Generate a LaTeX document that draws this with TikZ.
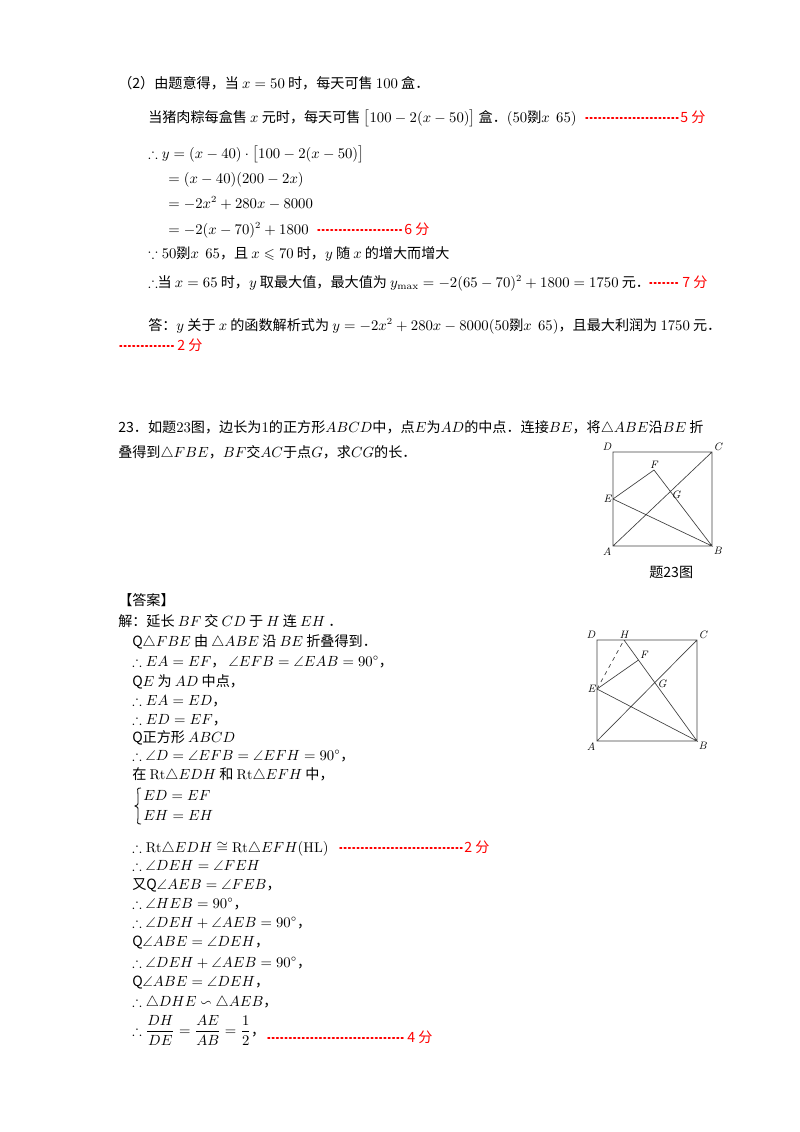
\documentclass[tikz,border=0pt]{standalone}
\usepackage{amsmath,amssymb}
\usepackage{fontspec}
\newfontfamily\cjk{Noto Sans CJK SC}
\begin{document}
\begin{tikzpicture}[x=0.744pt,y=-0.744pt,
 t/.style={anchor=base west,inner sep=0pt,font=\cjk\fontsize{10.5}{12}\selectfont},
 sc/.style={draw=black!75,line width=0.5pt},
 lb/.style={inner sep=1pt,font=\fontsize{8}{9}\selectfont\itshape}]
\useasboundingbox (0,0) rectangle (800,1132);
\newcommand{\score}[4]{\draw[red,dotted,line width=1.2pt,line cap=round] (#1,#3-4) -- (#2,#3-4); \node[t,text=red] at (#2+2,#3) {#4 分};}
\node[t] (l1) at (118,88) {（2）由题意得，当 $x=50$ 时，每天可售 $100$ 盒．};
\node[t] (l2) at (148,122) {当猪肉粽每盒售 $x$ 元时，每天可售 $\bigl[100-2(x-50)\bigr]$ 盒．$(50$剟$x\ \ 65)$};
\score{586}{678}{122}{5}
\node[t] (l3) at (148,158) {$\therefore y=(x-40)\cdot\bigl[100-2(x-50)\bigr]$};
\node[t] (l4) at (168,183) {$=(x-40)(200-2x)$};
\node[t] (l5) at (168,208) {$=-2x^2+280x-8000$};
\node[t] (l6) at (168,234) {$=-2(x-70)^2+1800$};
\score{318}{402}{234}{6}
\node[t] (l7) at (148,258) {$\because 50$剟$x\ \ 65$，且 $x\leqslant 70$ 时，$y$ 随 $x$ 的增大而增大};
\node[t] (l8) at (148,287) {$\therefore$当 $x=65$ 时，$y$ 取最大值，最大值为 $y_{\max}=-2(65-70)^2+1800=1750$ 元．};
\score{650}{680}{287}{7}
\node[t] (l9) at (148,330) {答：$y$ 关于 $x$ 的函数解析式为 $y=-2x^2+280x-8000(50$剟$x\ \ 65)$，且最大利润为 $1750$ 元．};
\score{120}{175}{350}{2}
\node[t] (p1) at (118,432) {23．如题$23$图，边长为$1$的正方形$ABCD$中，点$E$为$AD$的中点．连接$BE$，将$\triangle ABE$沿$BE$ 折};
\node[t] (p2) at (118,457) {叠得到$\triangle FBE$，$BF$交$AC$于点$G$，求$CG$的长．};
% figure 1
\coordinate (A) at (613,546); \coordinate (B) at (712,546);
\coordinate (C) at (712,452); \coordinate (D) at (613,452);
\coordinate (E) at (613,499); \coordinate (F) at (654,470); \coordinate (G) at (670,495);
\draw[sc] (A)--(B)--(C)--(D)--cycle (E)--(F)--(B)--(E) (A)--(C);
\node[lb,above left] at (D) {D}; \node[lb,above right] at (C) {C};
\node[lb,above] at (F) {F}; \node[lb,right] at (G) {G};
\node[lb,left] at (E) {E}; \node[lb,below left] at (A) {A}; \node[lb,below right] at (B) {B};
\node[t] (cap) at (649,577) {题23图};
\node[t] (ans) at (118,605) {【答案】};
\node[t] (s0) at (118,626) {解：延长 $BF$ 交 $CD$ 于 $H$ 连 $EH$ ．};
% figure 2
\coordinate (A2) at (597,741); \coordinate (B2) at (697,741);
\coordinate (C2) at (697,640); \coordinate (D2) at (597,640);
\coordinate (E2) at (597,689); \coordinate (H2) at (624,640);
\coordinate (F2) at (638.5,660); \coordinate (G2) at (656,684);
\draw[sc] (A2)--(B2)--(C2)--(D2)--cycle (E2)--(F2) (H2)--(B2)--(E2) (A2)--(C2);
\draw[sc,dashed] (E2)--(H2);
\node[lb,above left] at (D2) {D}; \node[lb,above] at (H2) {H}; \node[lb,above right] at (C2) {C};
\node[lb,above right] at (F2) {F}; \node[lb,right] at (G2) {G};
\node[lb,left] at (E2) {E}; \node[lb,below left] at (A2) {A}; \node[lb,below right] at (B2) {B};
\node[t] at (132,646) {Q$\triangle FBE$ 由 $\triangle ABE$ 沿 $BE$ 折叠得到．};
\node[t] at (132,666) {$\therefore EA=EF$， $\angle EFB=\angle EAB=90^\circ$，};
\node[t] at (132,686) {Q$E$ 为 $AD$ 中点，};
\node[t] at (132,705) {$\therefore EA=ED$，};
\node[t] at (132,724) {$\therefore ED=EF$，};
\node[t] at (132,742) {Q正方形 $ABCD$};
\node[t] at (132,760) {$\therefore \angle D=\angle EFB=\angle EFH=90^\circ$，};
\node[t] at (132,779) {在 $\mathrm{Rt}\triangle EDH$ 和 $\mathrm{Rt}\triangle EFH$ 中，};
\draw[line width=0.6pt] (141,788) .. controls (136,788) and (138,789) .. (138,795) -- (138,801) .. controls (138,805) .. (135,806) .. controls (138,807) .. (138,811) -- (138,817) .. controls (138,823) and (136,824) .. (141,824);
\node[t] at (143,800) {$ED=EF$};
\node[t] at (143,820) {$EH=EH$};
\node[t] at (132,852) {$\therefore \mathrm{Rt}\triangle EDH\cong\mathrm{Rt}\triangle EFH(\mathrm{HL})$};
\score{340}{462}{852}{2}
\node[t] at (132,870) {$\therefore \angle DEH=\angle FEH$};
\node[t] at (132,889) {又Q$\angle AEB=\angle FEB$，};
\node[t] at (132,908) {$\therefore \angle HEB=90^\circ$，};
\node[t] at (132,927) {$\therefore \angle DEH+\angle AEB=90^\circ$，};
\node[t] at (132,946) {Q$\angle ABE=\angle DEH$，};
\node[t] at (132,967) {$\therefore \angle DEH+\angle AEB=90^\circ$，};
\node[t] at (132,986) {Q$\angle ABE=\angle DEH$，};
\node[t] at (132,1006) {$\therefore \triangle DHE\backsim\triangle AEB$，};
\node[t] at (132,1035) {$\therefore \dfrac{DH}{DE}=\dfrac{AE}{AB}=\dfrac{1}{2}$，};
\score{268}{405}{1042}{4}
\end{tikzpicture}
\end{document}
